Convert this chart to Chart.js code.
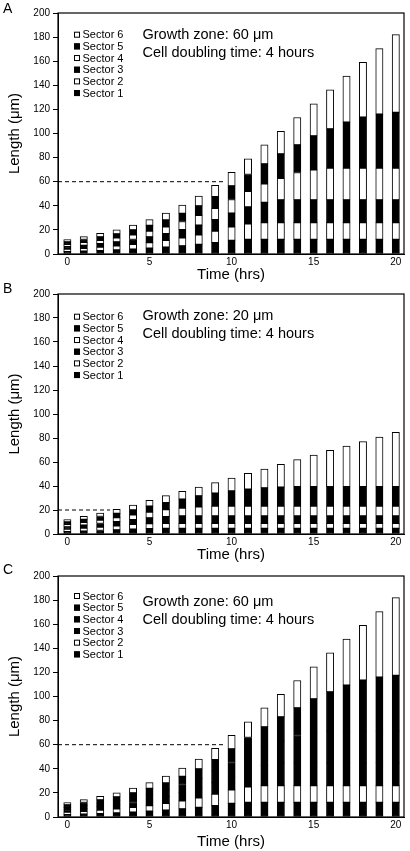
<!DOCTYPE html>
<html>
<head>
<meta charset="utf-8">
<script src="https://cdn.jsdelivr.net/npm/chart.js@4.4.1/dist/chart.umd.min.js"></script>
<style>
  html, body { margin: 0; padding: 0; background: #fff; overflow: hidden; }
  #wrap { position: relative; width: 410px; height: 851px; }
  canvas { position: absolute; left: 0; }
</style>
</head>
<body>
<div id="wrap">
  <canvas id="panelA" width="410" height="286" style="top:0px"></canvas>
  <canvas id="panelB" width="410" height="285" style="top:281px"></canvas>
  <canvas id="panelC" width="410" height="289" style="top:562px"></canvas>
</div>
<script>
// --- Data ---
const hours = [0, 1, 2, 3, 4, 5, 6, 7, 8, 9, 10, 11, 12, 13, 14, 15, 16, 17, 18, 19, 20];
const sectorNames = ['Sector 1', 'Sector 2', 'Sector 3', 'Sector 4', 'Sector 5', 'Sector 6'];

// Growth zone 60 um (panels A and C)
const sector1A = [2, 2.4, 2.85, 3.35, 4, 4.75, 5.65, 6.75, 8, 9.5, 11.3, 12.2, 12.2, 12.2, 12.2, 12.2, 12.2, 12.2, 12.2, 12.2, 12.2];
const sector2A = [2, 2.4, 2.85, 3.35, 4, 4.75, 5.65, 6.75, 8, 9.5, 11.3, 12.8, 13.8, 13.8, 13.8, 13.8, 13.8, 13.8, 13.8, 13.8, 13.8];
const sector3A = [2, 2.4, 2.85, 3.35, 4, 4.75, 5.65, 6.75, 8, 9.5, 11.3, 14, 16.9, 18.9, 18.9, 18.9, 18.9, 18.9, 18.9, 18.9, 18.9];
const sector4A = [2, 2.4, 2.85, 3.35, 4, 4.75, 5.65, 6.75, 8, 9.5, 11.3, 13, 15.3, 18, 22.7, 24.9, 26.3, 26.3, 26.3, 26.3, 26.3];
const sector5A = [2, 2.4, 2.85, 3.35, 4, 4.75, 5.65, 6.75, 8, 9.5, 11.3, 14, 16.6, 20.2, 23, 28.2, 32.7, 38.2, 42.4, 44.9, 46.3];
const sector6A = [2, 2.4, 2.85, 3.35, 4, 4.75, 5.65, 6.75, 8, 9.5, 11.3, 13, 15.8, 18.6, 22.7, 26.7, 32.4, 38.2, 45.4, 54.3, 64.5];

// Growth zone 20 um (panel B)
const sector1B = [2, 2.45, 2.9, 3.4, 4.1, 4.5, 4.7, 4.7, 4.7, 4.7, 4.7, 4.7, 4.7, 4.7, 4.7, 4.7, 4.7, 4.7, 4.7, 4.7, 4.7];
const sector2B = [2, 2.45, 2.9, 3.5, 3.9, 4.2, 4.2, 4.2, 4.2, 4.2, 4.2, 4.2, 4.2, 4.2, 4.2, 4.2, 4.2, 4.2, 4.2, 4.2, 4.2];
const sector3B = [2, 2.45, 2.95, 3.4, 3.9, 4.7, 5.6, 6.1, 6.1, 6.1, 6.1, 6.1, 6.1, 6.1, 6.1, 6.1, 6.1, 6.1, 6.1, 6.1, 6.1];
const sector4B = [2, 2.45, 2.95, 3.4, 4, 4.8, 5.8, 6.6, 7.6, 8.2, 8.3, 8.3, 8.3, 8.3, 8.3, 8.3, 8.3, 8.3, 8.3, 8.3, 8.3];
const sector5B = [2, 2.45, 2.9, 3.5, 4.1, 5, 5.9, 7.4, 9.2, 10.8, 12.5, 14, 15.2, 15.8, 16.1, 16.1, 16.1, 16.1, 16.1, 16.1, 16.1];
const sector6B = [2, 2.45, 2.9, 3.4, 4.2, 4.8, 5.8, 6.6, 7.4, 8.8, 10.9, 13.3, 15.7, 18.9, 22.6, 26.4, 30.3, 33.9, 37.6, 41.4, 45.3];

const fillsAB = ['#000', '#fff', '#000', '#fff', '#000', '#fff'];
const fillsC = ['#000', '#fff', '#000', '#000', '#000', '#fff'];

const xMin = -0.57, xMax = 20.5;

Chart.defaults.font.family = '"Liberation Sans", Arial, Helvetica, sans-serif';
Chart.defaults.color = '#000';

// frame, legend, text notes and panel letter
const panelDecor = {
    id: 'panelDecor',
    afterDraw(chart, args, o) {
        const { ctx, chartArea: a } = chart;
        ctx.save();
        ctx.strokeStyle = '#000';
        ctx.lineWidth = 1.2;
        ctx.strokeRect(a.left, a.top, a.right - a.left, a.bottom - a.top);

        // legend (top item = last sector)
        ctx.font = '11px "Liberation Sans", Arial, sans-serif';
        ctx.textBaseline = 'middle';
        ctx.fillStyle = '#000';
        const bars = chart.data.datasets.filter(d => d.type === 'bar').slice().reverse();
        bars.forEach((d, i) => {
            const y = a.top + o.legendTop + i * 11.67;
            const x = a.left + 16;
            ctx.fillStyle = d.backgroundColor;
            ctx.fillRect(x, y - 3, 6, 6);
            ctx.lineWidth = 1;
            ctx.strokeRect(x + 0.5, y - 2.5, 5, 5);
            ctx.fillStyle = '#000';
            ctx.fillText(d.label, x + 8.5, y + 0.5);
        });

        // notes
        ctx.font = '14.5px "Liberation Sans", Arial, sans-serif';
        ctx.textBaseline = 'alphabetic';
        ctx.fillText(o.note1, a.left + 84.5, a.top + o.noteTop);
        ctx.fillText(o.note2, a.left + 84.5, a.top + o.noteTop + 17.5);

        // panel letter
        ctx.font = '14px "Liberation Sans", Arial, sans-serif';
        ctx.fillText(o.letter, 3, o.letterY);
        ctx.restore();
    }
};

function makePanel(id, p) {
    const datasets = p.sectors.map((vals, i) => ({
        type: 'bar',
        label: sectorNames[i],
        data: hours.map((h, j) => ({ x: h, y: vals[j] })),
        backgroundColor: p.fills[i],
        borderColor: '#000',
        borderWidth: 1,
        borderSkipped: false,
        barThickness: 7.3,
        stack: 'len'
    }));
    // dashed growth zone marker
    datasets.push({
        type: 'line',
        label: 'zone',
        data: [{ x: xMin, y: p.zone }, { x: p.dashEnd, y: p.zone }],
        borderColor: '#000',
        borderWidth: 1,
        borderDash: [4, 3],
        pointRadius: 0,
        stack: 'zone'
    });

    return new Chart(document.getElementById(id), {
        type: 'bar',
        data: { datasets },
        plugins: [panelDecor],
        options: {
            responsive: false,
            animation: false,
            devicePixelRatio: 1,
            layout: { padding: { top: p.padTop, right: 6, left: 0, bottom: 0 } },
            plugins: {
                legend: { display: false },
                tooltip: { enabled: false },
                panelDecor: p.decor
            },
            scales: {
                x: {
                    type: 'linear', min: xMin, max: xMax, stacked: true, offset: false,
                    afterFit: s => { s.height = p.xAxisH; },
                    grid: { drawOnChartArea: false, drawTicks: false },
                    border: { color: '#000', width: 1 },
                    ticks: { stepSize: 5, includeBounds: false, padding: 2, maxRotation: 0, font: { size: 10 } },
                    title: { display: true, text: 'Time (hrs)', font: { size: 15 }, padding: { top: 0, bottom: p.titlePad } }
                },
                y: {
                    min: 0, max: 200, stacked: true,
                    afterFit: s => { s.width = 58; },
                    grid: { drawOnChartArea: false, drawTicks: true, tickLength: 5, color: '#000' },
                    border: { color: '#000', width: 1 },
                    ticks: { stepSize: 20, padding: 3, font: { size: 10 } },
                    title: { display: true, text: 'Length (\u03bcm)', font: { size: 15 }, padding: { top: 5.5, bottom: 0 } }
                }
            }
        }
    });
}

makePanel('panelA', {
    sectors: [sector1A, sector2A, sector3A, sector4A, sector5A, sector6A],
    fills: fillsAB, zone: 60, dashEnd: 9.6,
    padTop: 13, xAxisH: 32, titlePad: 2,
    decor: { letter: 'A', letterY: 13, legendTop: 21.7, noteTop: 26,
        note1: 'Growth zone: 60 \u03bcm', note2: 'Cell doubling time: 4 hours' }
});

makePanel('panelB', {
    sectors: [sector1B, sector2B, sector3B, sector4B, sector5B, sector6B],
    fills: fillsAB, zone: 20, dashEnd: 2.6,
    padTop: 13, xAxisH: 32, titlePad: 2,
    decor: { letter: 'B', letterY: 11.5, legendTop: 22.7, noteTop: 26,
        note1: 'Growth zone: 20 \u03bcm', note2: 'Cell doubling time: 4 hours' }
});

makePanel('panelC', {
    sectors: [sector1A, sector2A, sector3A, sector4A, sector5A, sector6A],
    fills: fillsC, zone: 60, dashEnd: 9.6,
    padTop: 14, xAxisH: 34, titlePad: 0,
    decor: { letter: 'C', letterY: 12, legendTop: 20, noteTop: 30,
        note1: 'Growth zone: 60 \u03bcm', note2: 'Cell doubling time: 4 hours' }
});
</script>
</body>
</html>
